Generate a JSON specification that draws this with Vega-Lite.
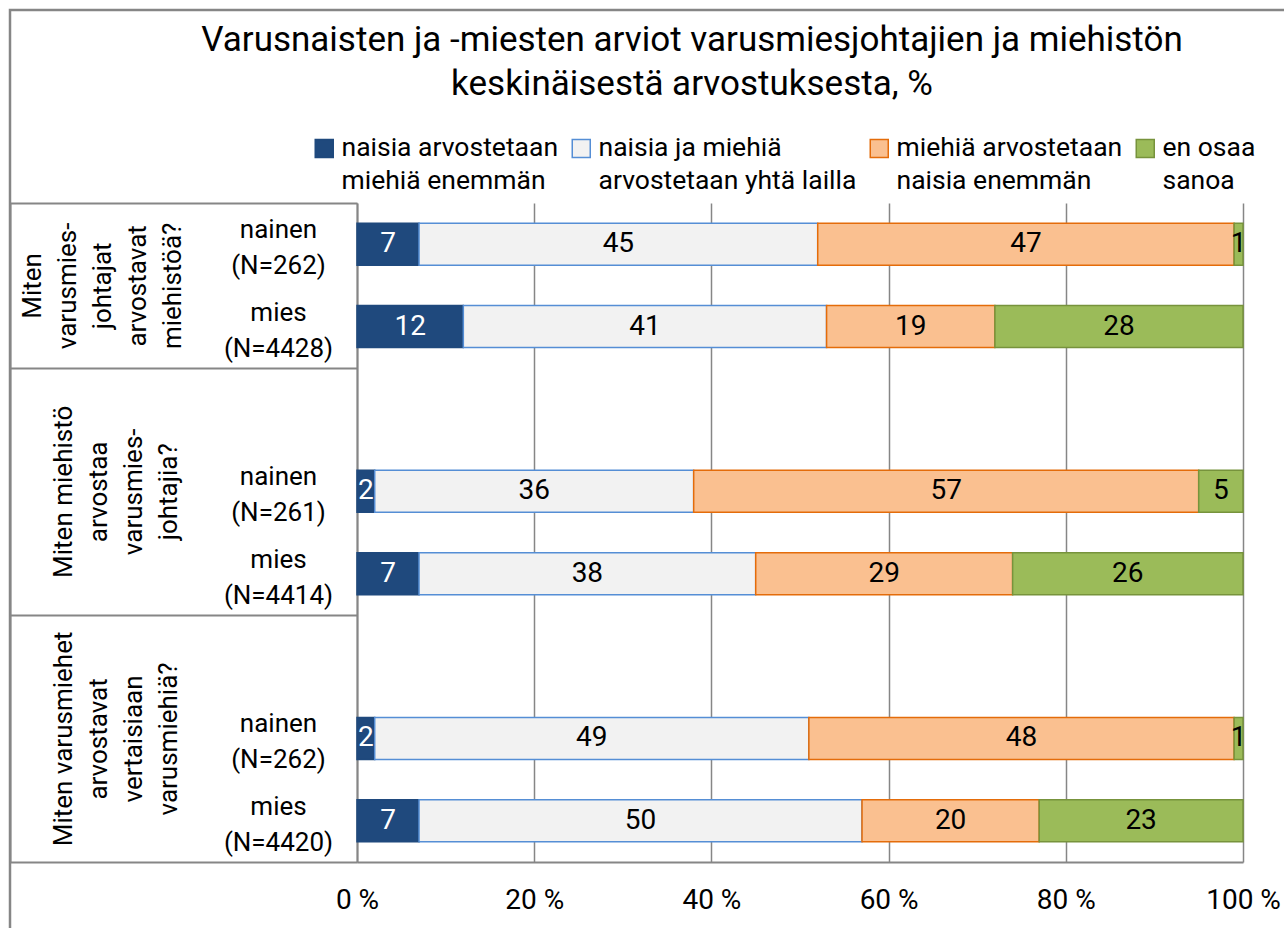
{
  "$schema": "https://vega.github.io/schema/vega-lite/v6.json",
  "width": 886,
  "height": 659,
  "autosize": {"type": "none"},
  "padding": {"left": 357, "top": 203, "right": 41, "bottom": 66},
  "background": "white",
  "config": {
    "font": "Roboto",
    "view": {"stroke": null},
    "axis": {"labelColor": "black", "labelFont": "Roboto"},
    "legend": {"labelColor": "black", "labelFont": "Roboto"}
  },
  "title": {
    "text": ["Varusnaisten ja -miesten arviot varusmiesjohtajien ja miehistön", "keskinäisestä arvostuksesta, %"],
    "fontSize": 35,
    "fontWeight": "normal",
    "lineHeight": 44,
    "color": "black",
    "anchor": "middle",
    "dx": -108,
    "offset": -93
  },
  "data": {
    "values": [
      {"rivi": "A|nainen|(N=262)", "kategoria": "naisia arvostetaan miehiä enemmän", "jarjestys": 1, "arvo": 7},
      {"rivi": "A|nainen|(N=262)", "kategoria": "naisia ja miehiä arvostetaan yhtä lailla", "jarjestys": 2, "arvo": 45},
      {"rivi": "A|nainen|(N=262)", "kategoria": "miehiä arvostetaan naisia enemmän", "jarjestys": 3, "arvo": 47},
      {"rivi": "A|nainen|(N=262)", "kategoria": "en osaa sanoa", "jarjestys": 4, "arvo": 1},
      {"rivi": "A|mies|(N=4428)", "kategoria": "naisia arvostetaan miehiä enemmän", "jarjestys": 1, "arvo": 12},
      {"rivi": "A|mies|(N=4428)", "kategoria": "naisia ja miehiä arvostetaan yhtä lailla", "jarjestys": 2, "arvo": 41},
      {"rivi": "A|mies|(N=4428)", "kategoria": "miehiä arvostetaan naisia enemmän", "jarjestys": 3, "arvo": 19},
      {"rivi": "A|mies|(N=4428)", "kategoria": "en osaa sanoa", "jarjestys": 4, "arvo": 28},
      {"rivi": "B|nainen|(N=261)", "kategoria": "naisia arvostetaan miehiä enemmän", "jarjestys": 1, "arvo": 2},
      {"rivi": "B|nainen|(N=261)", "kategoria": "naisia ja miehiä arvostetaan yhtä lailla", "jarjestys": 2, "arvo": 36},
      {"rivi": "B|nainen|(N=261)", "kategoria": "miehiä arvostetaan naisia enemmän", "jarjestys": 3, "arvo": 57},
      {"rivi": "B|nainen|(N=261)", "kategoria": "en osaa sanoa", "jarjestys": 4, "arvo": 5},
      {"rivi": "B|mies|(N=4414)", "kategoria": "naisia arvostetaan miehiä enemmän", "jarjestys": 1, "arvo": 7},
      {"rivi": "B|mies|(N=4414)", "kategoria": "naisia ja miehiä arvostetaan yhtä lailla", "jarjestys": 2, "arvo": 38},
      {"rivi": "B|mies|(N=4414)", "kategoria": "miehiä arvostetaan naisia enemmän", "jarjestys": 3, "arvo": 29},
      {"rivi": "B|mies|(N=4414)", "kategoria": "en osaa sanoa", "jarjestys": 4, "arvo": 26},
      {"rivi": "C|nainen|(N=262)", "kategoria": "naisia arvostetaan miehiä enemmän", "jarjestys": 1, "arvo": 2},
      {"rivi": "C|nainen|(N=262)", "kategoria": "naisia ja miehiä arvostetaan yhtä lailla", "jarjestys": 2, "arvo": 49},
      {"rivi": "C|nainen|(N=262)", "kategoria": "miehiä arvostetaan naisia enemmän", "jarjestys": 3, "arvo": 48},
      {"rivi": "C|nainen|(N=262)", "kategoria": "en osaa sanoa", "jarjestys": 4, "arvo": 1},
      {"rivi": "C|mies|(N=4420)", "kategoria": "naisia arvostetaan miehiä enemmän", "jarjestys": 1, "arvo": 7},
      {"rivi": "C|mies|(N=4420)", "kategoria": "naisia ja miehiä arvostetaan yhtä lailla", "jarjestys": 2, "arvo": 50},
      {"rivi": "C|mies|(N=4420)", "kategoria": "miehiä arvostetaan naisia enemmän", "jarjestys": 3, "arvo": 20},
      {"rivi": "C|mies|(N=4420)", "kategoria": "en osaa sanoa", "jarjestys": 4, "arvo": 23}
    ]
  },
  "layer": [
    {
      "transform": [
        {"stack": "arvo", "groupby": ["rivi"], "sort": [{"field": "jarjestys", "order": "ascending"}], "as": ["alku", "loppu"]}
      ],
      "encoding": {
        "y": {
          "field": "rivi",
          "type": "nominal",
          "sort": null,
          "scale": {
            "domain": ["A|nainen|(N=262)", "A|mies|(N=4428)", "B", "B|nainen|(N=261)", "B|mies|(N=4414)", "C", "C|nainen|(N=262)", "C|mies|(N=4420)"],
            "paddingInner": 0.49,
            "paddingOuter": 0.245
          },
          "axis": {
            "title": null,
            "orient": "left",
            "offset": 347,
            "domain": true,
            "domainColor": "#868686",
            "domainWidth": 2,
            "ticks": false,
            "grid": false,
            "labelExpr": "slice(split(datum.label, '|'), 1)",
            "labelAlign": "center",
            "labelBaseline": "middle",
            "labelPadding": -268,
            "labelOffset": -14,
            "labelFontSize": 26,
            "labelLineHeight": 36,
            "labelLimit": 300
          }
        }
      },
      "layer": [
        {
          "mark": {"type": "bar", "strokeWidth": 1.5},
          "encoding": {
            "x": {
              "field": "alku",
              "type": "quantitative",
              "scale": {"domain": [0, 100], "nice": false},
              "axis": {
                "title": null,
                "orient": "bottom",
                "values": [0, 20, 40, 60, 80, 100],
                "labelExpr": "datum.value + ' %'",
                "labelFontSize": 28,
                "labelPadding": 24,
                "labelFlush": false,
                "ticks": false,
                "domain": true,
                "domainColor": "#868686",
                "domainWidth": 2,
                "grid": true,
                "gridColor": "#868686",
                "gridWidth": 1.5
              }
            },
            "x2": {"field": "loppu"},
            "fill": {
              "field": "kategoria",
              "type": "nominal",
              "title": null,
              "scale": {
                "domain": ["naisia arvostetaan miehiä enemmän", "naisia ja miehiä arvostetaan yhtä lailla", "miehiä arvostetaan naisia enemmän", "en osaa sanoa"],
                "range": ["#1F497D", "#F2F2F2", "#FAC090", "#9BBB59"]
              },
              "legend": {
                "orient": "none",
                "legendX": -46,
                "legendY": -68,
                "direction": "horizontal",
                "columns": 4,
                "columnPadding": 9,
                "gridAlign": "each",
                "padding": 0,
                "symbolType": "square",
                "symbolSize": 324,
                "symbolStrokeWidth": 1.5,
                "labelFontSize": 26.5,
                "labelOffset": 4,
                "labelLimit": 500,
                "labelBaseline": "middle",
                "labelExpr": "datum.label == 'naisia arvostetaan miehiä enemmän' ? ['naisia arvostetaan', 'miehiä enemmän'] : datum.label == 'naisia ja miehiä arvostetaan yhtä lailla' ? ['naisia ja miehiä', 'arvostetaan yhtä lailla'] : datum.label == 'miehiä arvostetaan naisia enemmän' ? ['miehiä arvostetaan', 'naisia enemmän'] : ['en osaa', 'sanoa']",
                "encode": {"labels": {"update": {"lineHeight": {"value": 33}}}}
              }
            },
            "stroke": {
              "field": "kategoria",
              "type": "nominal",
              "title": null,
              "scale": {
                "domain": ["naisia arvostetaan miehiä enemmän", "naisia ja miehiä arvostetaan yhtä lailla", "miehiä arvostetaan naisia enemmän", "en osaa sanoa"],
                "range": ["#1F497D", "#558ED5", "#E46C0A", "#77933C"]
              }
            }
          }
        },
        {
          "mark": {
            "type": "text",
            "fontSize": 28,
            "baseline": "middle",
            "align": "center",
            "dx": {"expr": "(scale('x', datum.loppu) - scale('x', datum.alku)) / 2"}
          },
          "encoding": {
            "x": {"field": "alku", "type": "quantitative"},
            "text": {"field": "arvo", "type": "quantitative"},
            "color": {"condition": {"test": "datum.jarjestys == 1", "value": "white"}, "value": "black"}
          }
        }
      ]
    },
    {
      "data": {"values": [{}]},
      "mark": {"type": "rule", "strokeOpacity": 0},
      "encoding": {
        "y": {
          "datum": 8,
          "type": "quantitative",
          "scale": {"domain": [0, 8], "reverse": true, "nice": false, "zero": false},
          "axis": {
            "title": null,
            "orient": "left",
            "offset": 0,
            "values": [0, 1, 2, 3.5, 5, 6.5, 8],
            "domain": true,
            "domainColor": "#868686",
            "domainWidth": 2,
            "grid": false,
            "ticks": true,
            "tickSize": 347,
            "tickWidth": 2,
            "tickColor": {"condition": {"test": "datum.value == 0 || datum.value == 2 || datum.value == 5 || datum.value == 8", "value": "#868686"}, "value": "transparent"},
            "labelOverlap": false,
            "labelAngle": 270,
            "labelAlign": "center",
            "labelBaseline": "middle",
            "labelPadding": {"condition": {"test": "datum.value == 1", "value": -22}, "value": -53},
            "labelFontSize": 26,
            "labelLineHeight": 35,
            "labelLimit": 400,
            "labelExpr": "datum.value == 1 ? ['Miten', 'varusmies-', 'johtajat', 'arvostavat', 'miehistöä?'] : datum.value == 3.5 ? ['Miten miehistö', 'arvostaa', 'varusmies-', 'johtajia?'] : datum.value == 6.5 ? ['Miten varusmiehet', 'arvostavat', 'vertaisiaan', 'varusmiehiä?'] : ''"
          }
        },
        "opacity": {
          "datum": "kehys",
          "type": "nominal",
          "scale": {"range": [0]},
          "legend": {
            "orient": "none",
            "legendX": -347,
            "legendY": -193,
            "title": null,
            "padding": 700,
            "strokeColor": "#868686",
            "symbolOpacity": 0,
            "symbolSize": 0,
            "symbolStrokeWidth": 0,
            "symbolFillColor": "transparent",
            "symbolStrokeColor": "transparent",
            "labelOpacity": 0,
            "labelFontSize": 1,
            "labelExpr": "''",
            "encode": {"legend": {"update": {"strokeWidth": {"value": 2.5}}}}
          }
        }
      }
    }
  ],
  "resolve": {"scale": {"y": "independent"}}
}
